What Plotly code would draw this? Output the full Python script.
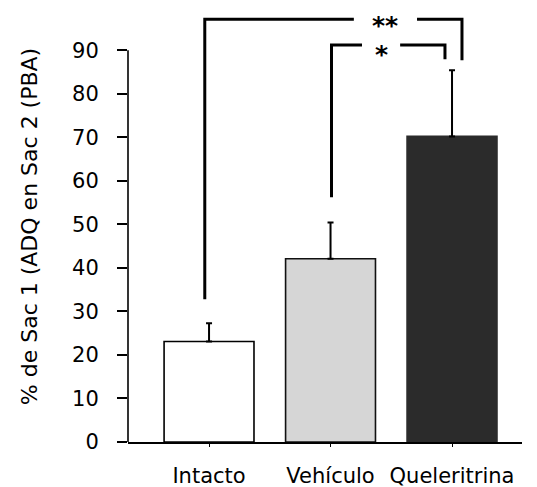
import plotly.graph_objects as go

# Group means and SEM
categories = ["Intacto", "Vehículo", "Queleritrina"]
means = [23.1, 42.1, 70.2]
sems = [4.2, 8.3, 15.2]
fill_colors = ["#ffffff", "#d6d6d6", "#2b2b2b"]
line_colors = ["#000000", "#111111", "#2b2b2b"]

# Y axis ticks
y_ticks = [0, 10, 20, 30, 40, 50, 60, 70, 80, 90]

# Significance brackets: (left group, right group, label, bracket level,
# left-leg end, right-leg end, left x offset, right x offset)
comparisons = [
    (0, 2, "**", 97.1, 32.8, 87.7, -0.035, 0.082),
    (1, 2, "*", 91.2, 56.2, 87.9, 0.008, -0.058),
]
label_gap = [0.26, 0.157]  # half-width of the gap around each label (x units)
label_shift = [-0.63, -0.526]  # label position relative to the right leg
label_yshift = [-6, -10]

x = list(range(len(categories)))

fig = go.Figure()
fig.add_trace(go.Bar(
    x=x,
    y=means,
    width=0.74,
    marker=dict(color=fill_colors, line=dict(color=line_colors, width=1.6)),
    error_y=dict(type="data", symmetric=False, array=sems,
                 arrayminus=[0] * len(sems), color="black",
                 thickness=2, width=3),
    showlegend=False,
))

shapes = []
annotations = []
for k, (i, j, lab, lvl, ybot_l, ybot_r, dxl, dxr) in enumerate(comparisons):
    xl = i + dxl
    xr = j + dxr
    xc = xr + label_shift[k]
    g = label_gap[k]
    line = dict(color="black", width=3)
    # left leg + left part of the bar
    shapes.append(dict(type="path", xref="x", yref="y",
                       path=f"M {xl} {ybot_l} L {xl} {lvl} L {xc - g} {lvl}",
                       line=line))
    # right part of the bar + right leg
    shapes.append(dict(type="path", xref="x", yref="y",
                       path=f"M {xc + g} {lvl} L {xr} {lvl} L {xr} {ybot_r}",
                       line=line))
    annotations.append(dict(x=xc, y=lvl, xref="x", yref="y",
                            text=f"<b>{lab}</b>",
                            showarrow=False, yanchor="middle",
                            yshift=label_yshift[k],
                            font=dict(family="DejaVu Sans", size=25,
                                      color="black")))

# y axis line from 0 to 90 only
shapes.append(dict(type="line", xref="paper", yref="y", x0=0, x1=0,
                   y0=0, y1=y_ticks[-1],
                   line=dict(color="black", width=1.6)))

fig.update_layout(
    width=537, height=487,
    margin=dict(l=128, r=15, t=11, b=45),
    plot_bgcolor="white", paper_bgcolor="white",
    font=dict(family="DejaVu Sans", size=21, color="black"),
    shapes=shapes,
    annotations=annotations,
    xaxis=dict(
        range=[-0.667, 2.576],
        tickvals=x, ticktext=categories,
        showline=True, linecolor="black", linewidth=1.6,
        ticks="outside", ticklen=3, tickwidth=1.2, tickcolor="black",
        showgrid=False, zeroline=False, automargin=False,
        ticklabelstandoff=11,
        tickfont=dict(size=21),
    ),
    yaxis=dict(
        range=[0, 99],
        tickvals=y_ticks,
        showline=False,
        ticks="outside", ticklen=10, tickwidth=1.6, tickcolor="black",
        showgrid=False, zeroline=False, automargin=False,
        ticklabelstandoff=14,
        tickfont=dict(size=21),
        title=dict(text="% de Sac 1 (ADQ en Sac 2 (PBA)",
                   font=dict(size=22), standoff=28),
    ),
)

fig.write_html("out.html")
